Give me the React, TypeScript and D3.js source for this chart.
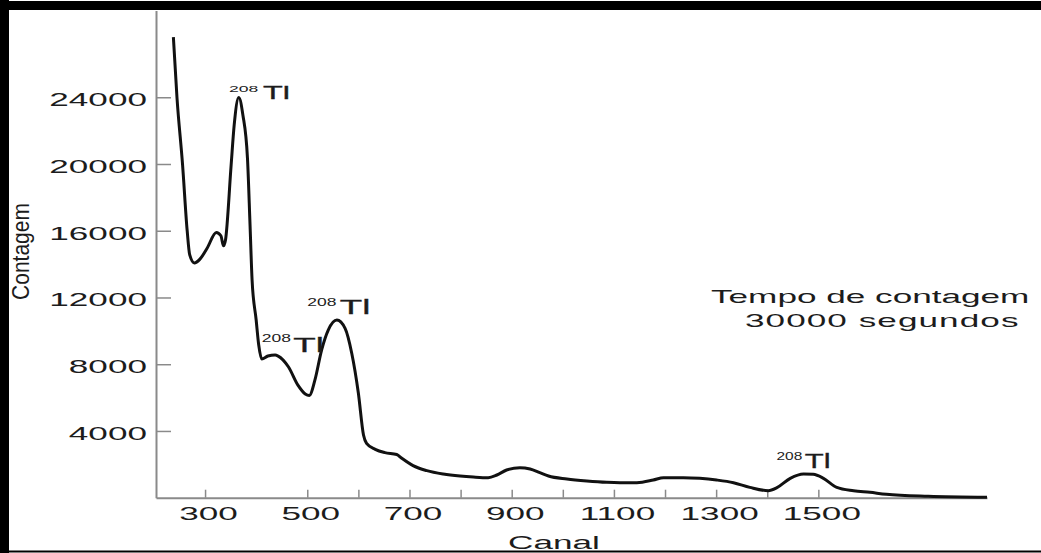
import { useEffect, useRef } from 'react'
import * as d3 from 'd3'

// spectrum (channel, counts)
const channels = [
  238, 245, 256, 265, 270, 279, 290, 304, 322, 331, 336, 340, 351, 357, 366, 374, 383, 388, 392, 400,
  405, 411, 423, 437, 443, 463, 482, 496, 504, 515, 528, 541, 558, 574, 587, 600, 610, 616, 633, 652,
  675, 685, 707, 734, 766, 799, 825, 854, 871, 890, 916, 936, 955, 972, 1008, 1047, 1086, 1112, 1145, 1177,
  1197, 1236, 1268, 1301, 1334, 1366, 1402, 1419, 1445, 1471, 1490, 1510, 1536, 1569, 1601, 1633, 1715, 1830,
]
const counts = [
  27600, 24000, 19950, 16000, 14550, 14070, 14300, 14950, 15900, 15700, 15100, 15450, 19930, 22340, 23990, 22940, 20340, 16350, 13050, 10650,
  9150, 8310, 8490, 8550, 8490, 7850, 6730, 6220, 6130, 7060, 8850, 10050, 10650, 10150, 8660, 6260, 3760, 3260, 2900, 2700,
  2590, 2360, 1920, 1620, 1420, 1300, 1240, 1200, 1360, 1660, 1800, 1720, 1500, 1300, 1120, 1000, 920, 900, 900, 1060,
  1200, 1200, 1160, 1060, 900, 620, 420, 600, 1160, 1420, 1400, 1160, 620, 420, 320, 200, 80, 20,
]

const yTicks = [4000, 8000, 12000, 16000, 20000, 24000]
const xTicks = [300, 500, 600, 700, 800, 900, 1000, 1100, 1200, 1300, 1400, 1500]
const xLabels = [300, 500, 700, 900, 1100, 1300, 1500]

// 208Tl peak labels, anchored in data units (channel, counts)
const peakChannels = [347, 411, 500, 1418]
const peakCounts = [23880, 8760, 10990, 1760]
const isotope = '208'
const element = 'Tl'

const noteLines = ['Tempo de contagem', '30000 segundos']
const xTitle = 'Canal'
const yTitle = 'Contagem'

const W = 1041
const H = 553
const SX = 1.9 // the scan is stretched horizontally
const FONT = '"Liberation Sans", Arial, sans-serif'
const INK = '#1c1c1c'
const AXIS = '#8a8a8a'

// per-label look: big/small font size, superscript rise, gap to "Tl", x stretch
const annStyle = [
  { big: 17.5, small: 9.5, rise: 7.3, gap: 34, sx: 1.85 },
  { big: 21, small: 10, rise: 9.5, gap: 31.5, sx: 1.75 },
  { big: 21, small: 10, rise: 8.3, gap: 32.5, sx: 1.75 },
  { big: 20, small: 10, rise: 8.3, gap: 28.3, sx: 1.55 },
]

export default function App() {
  const svgRef = useRef<SVGSVGElement>(null)

  useEffect(() => {
    if (!svgRef.current) return
    const svg = d3.select(svgRef.current)
    svg.selectAll('*').remove()

    const x = d3.scaleLinear().domain([204, 1830]).range([156, 987])
    const y = d3.scaleLinear().domain([0, 29200]).range([497.7, 10.5])

    svg.append('rect').attr('width', W).attr('height', H).attr('fill', '#fff')

    // y axis, ticks pointing inward
    const gy = svg.append('g').attr('transform', `translate(${x(204)},0)`)
      .call(d3.axisLeft(y).tickValues(yTicks).tickSize(-15).tickSizeOuter(0).tickPadding(9)
        .tickFormat(d3.format('d')))
      .attr('font-family', FONT).attr('font-size', 18.5)
    gy.select('.domain').attr('stroke', AXIS).attr('stroke-width', 2)
    gy.selectAll('.tick line').attr('stroke', AXIS).attr('stroke-width', 1.5)
    gy.selectAll('.tick text')
      .attr('x', -9 / SX).attr('dy', '0.46em')
      .attr('transform', `scale(${SX},1)`).attr('fill', INK)

    // x axis, ticks pointing up
    const gx = svg.append('g').attr('transform', `translate(0,${y(0)})`)
      .call(d3.axisBottom(x).tickValues(xTicks).tickSize(-8).tickSizeOuter(0).tickPadding(9)
        .tickFormat(d => (xLabels.includes(+d) ? String(d) : '')))
      .attr('font-family', FONT).attr('font-size', 18.5)
    gx.select('.domain').attr('stroke', AXIS).attr('stroke-width', 2)
    gx.selectAll('.tick line').attr('stroke', AXIS).attr('stroke-width', 1.5)
    gx.selectAll('.tick text')
      .attr('x', 3 / SX).attr('transform', `scale(${SX},1)`).attr('fill', INK)

    // spectrum
    const pts = channels.map((c, i) => [c, counts[i]] as [number, number])
    const line = d3.line<[number, number]>().x(d => x(d[0])).y(d => y(d[1])).curve(d3.curveMonotoneX)
    svg.append('path').datum(pts)
      .attr('fill', 'none').attr('stroke', '#111').attr('stroke-width', 3)
      .attr('stroke-linejoin', 'round').attr('d', line)

    // 208Tl labels
    peakChannels.forEach((c, i) => {
      const s = annStyle[i]
      const g = svg.append('g').attr('transform', `translate(${x(c)},${y(peakCounts[i])})`)
        .attr('font-family', FONT).attr('fill', INK)
      g.append('text').attr('transform', `translate(0,${-s.rise}) scale(${s.sx},1)`)
        .attr('font-size', s.small).text(isotope)
      g.append('text').attr('transform', `translate(${s.gap},0) scale(${s.sx},1)`)
        .attr('font-size', s.big).attr('stroke', INK).attr('stroke-width', 0.3).text(element)
    })

    // counting-time note
    const note = svg.append('g').attr('font-family', FONT).attr('font-size', 18.5).attr('fill', INK)
    note.append('text').attr('transform', `translate(711,303.3) scale(${SX},1)`).text(noteLines[0])
    note.append('text').attr('transform', `translate(745,326.7) scale(${SX},1)`)
      .attr('letter-spacing', 0.55).text(noteLines[1])

    // axis titles
    svg.append('text').attr('transform', `translate(554,549) scale(${SX},1)`)
      .attr('text-anchor', 'middle').attr('font-family', FONT).attr('font-size', 18.5)
      .attr('fill', INK).text(xTitle)
    svg.append('text').attr('transform', 'translate(29,251.5) scale(1.13,1) rotate(-90)')
      .attr('text-anchor', 'middle').attr('font-family', FONT).attr('font-size', 21)
      .attr('fill', INK).text(yTitle)

    // scan frame
    svg.append('rect').attr('x', 0).attr('y', 1).attr('width', W).attr('height', 9).attr('fill', '#000')
    svg.append('rect').attr('x', 0).attr('y', 0).attr('width', 9).attr('height', H).attr('fill', '#000')
    svg.append('rect').attr('x', 0).attr('y', 550.5).attr('width', W).attr('height', 2).attr('fill', '#000')
  }, [])

  return (
    <svg
      ref={svgRef}
      width={W}
      height={H}
      style={{ position: 'absolute', left: 0, top: 0, display: 'block' }}
    />
  )
}
